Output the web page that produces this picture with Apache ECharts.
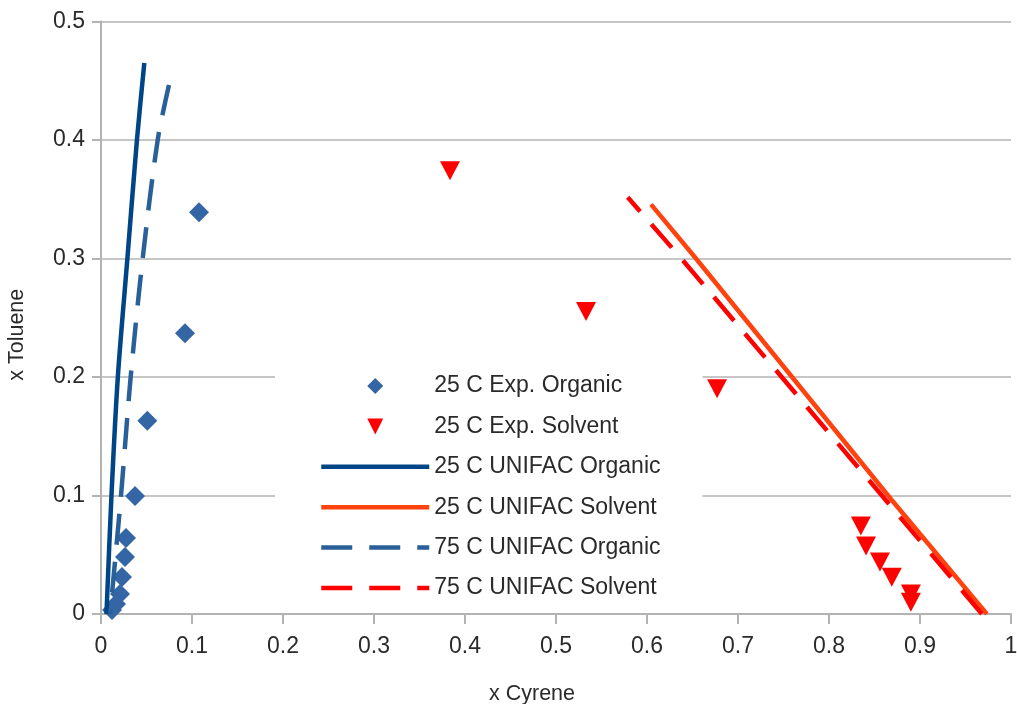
<!DOCTYPE html>
<html>
<head>
<meta charset="utf-8">
<script src="https://cdn.jsdelivr.net/npm/echarts@6/dist/echarts.min.js"></script>
<style>
html,body{margin:0;padding:0;background:#fff;}
#chart{width:1017px;height:704px;}
</style>
</head>
<body>
<div id="chart"></div>
<script>
const xTickLabels = ['0','0.1','0.2','0.3','0.4','0.5','0.6','0.7','0.8','0.9','1'];
const yTickLabels = ['0','0.1','0.2','0.3','0.4','0.5'];

const seriesNames = ['25 C Exp. Organic','25 C Exp. Solvent','25 C UNIFAC Organic','25 C UNIFAC Solvent','75 C UNIFAC Organic','75 C UNIFAC Solvent'];

const expOrgX = [0.1077,0.0923,0.0509,0.0374,0.0275,0.0264,0.0231,0.0209,0.0165,0.0121];
const expOrgY = [0.339,0.2369,0.163,0.0996,0.0641,0.0481,0.0312,0.0169,0.0084,0.0034];

const expSolX = [0.3835,0.533,0.677,0.835,0.8407,0.856,0.869,0.890,0.890];
const expSolY = [0.374,0.2553,0.190,0.0743,0.0574,0.0439,0.031,0.0169,0.010];

const uni25OrgX = [0.006,0.0115,0.0185,0.029,0.0395,0.0476];
const uni25OrgY = [0,0.1,0.2,0.3,0.4,0.465];

// listed from the top end down
const uni75OrgX = [0.0747,0.0623,0.0458,0.0326,0.022,0.010];
const uni75OrgY = [0.4464,0.4,0.3,0.2,0.1,0];

const uni25SolX = [0.9735,0.8689,0.7594,0.6538,0.6044];
const uni25SolY = [0,0.0962,0.2,0.3,0.3457];

const uni75SolX = [0.968,0.8623,0.748,0.6377,0.5788];
const uni75SolY = [0,0.0962,0.2,0.3,0.3516];

const zip = (xs, ys) => xs.map((x, i) => [x, ys[i]]);
const FONT = 'Liberation Sans';
const AXIS_COLOR = '#b3b3b3';

// legend icons: small marker centred in the wide legend key box
const diamondIcon = 'path://M0,0M108,16M46,8L54,0L62,8L54,16Z';
const triangleIcon = 'path://M0,0M108,16M46,0L62,0L54,16Z';

const chart = echarts.init(document.getElementById('chart'), null, {renderer: 'canvas'});
chart.setOption({
  animation: false,
  backgroundColor: '#fff',
  grid: {left: 101, right: 6, top: 21.5, bottom: 90, outerBoundsMode: 'none', containLabel: false},
  legend: {
    orient: 'vertical',
    left: 275,
    top: 364,
    padding: [10, 42, 10, 44],
    backgroundColor: '#fff',
    itemWidth: 108,
    itemHeight: 16,
    itemGap: 16.4,
    selectedMode: false,
    lineStyle: {width: 4.5},
    textStyle: {fontFamily: FONT, fontSize: 23, color: '#2a2a2a', lineHeight: 24},
    data: [
      {name: seriesNames[0], icon: diamondIcon},
      {name: seriesNames[1], icon: triangleIcon},
      {name: seriesNames[2], itemStyle: {opacity: 0}},
      {name: seriesNames[3], itemStyle: {opacity: 0}},
      {name: seriesNames[4], itemStyle: {opacity: 0}},
      {name: seriesNames[5], itemStyle: {opacity: 0}}
    ]
  },
  xAxis: {
    type: 'value', min: 0, max: 1, interval: 0.1,
    name: 'x Cyrene', nameLocation: 'middle', nameGap: 69,
    nameTextStyle: {fontFamily: FONT, fontSize: 21.5, color: '#2a2a2a', padding: [0, 48, 0, 0]},
    axisLine: {show: true, onZero: false, lineStyle: {color: AXIS_COLOR, width: 2}},
    axisTick: {show: true, length: 10, lineStyle: {color: AXIS_COLOR, width: 2}},
    axisLabel: {margin: 21, fontFamily: FONT, fontSize: 23, color: '#2a2a2a',
      formatter: v => xTickLabels[Math.round(v * 10)]},
    splitLine: {show: false}
  },
  yAxis: {
    type: 'value', min: 0, max: 0.5, interval: 0.1,
    name: 'x Toluene', nameLocation: 'middle', nameGap: 73, nameRotate: 90,
    nameTextStyle: {fontFamily: FONT, fontSize: 21.5, color: '#2a2a2a', padding: [0, 34, 0, 0]},
    axisLine: {show: true, onZero: false, lineStyle: {color: AXIS_COLOR, width: 2}},
    axisTick: {show: true, length: 9, lineStyle: {color: AXIS_COLOR, width: 2}},
    axisLabel: {margin: 16, fontFamily: FONT, fontSize: 23, color: '#2a2a2a',
      formatter: v => yTickLabels[Math.round(v * 10)]},
    splitLine: {show: true, lineStyle: {color: AXIS_COLOR, width: 1.5}}
  },
  series: [
    {name: seriesNames[2], type: 'line', data: zip(uni25OrgX, uni25OrgY), symbol: 'none', showSymbol: false,
     smooth: 0.3, color: '#004586', lineStyle: {color: '#004586', width: 4.5}},
    {name: seriesNames[3], type: 'line', data: zip(uni25SolX, uni25SolY), symbol: 'none', showSymbol: false,
     color: '#ff420e', lineStyle: {color: '#ff420e', width: 4.5}},
    {name: seriesNames[4], type: 'line', data: zip(uni75OrgX, uni75OrgY), symbol: 'none', showSymbol: false,
     smooth: 0.3, color: '#2a6099', lineStyle: {color: '#2a6099', width: 4.5, type: [31, 17]}},
    {name: seriesNames[5], type: 'line', data: zip(uni75SolX, uni75SolY), symbol: 'none', showSymbol: false,
     color: '#ff0000', lineStyle: {color: '#ff0000', width: 4.5, type: [31, 17]}},
    {name: seriesNames[0], type: 'scatter', data: zip(expOrgX, expOrgY), symbol: 'diamond', symbolSize: 20,
     itemStyle: {color: '#3465a4', opacity: 1}},
    {name: seriesNames[1], type: 'scatter', data: zip(expSolX, expSolY), symbol: 'triangle', symbolSize: [20, 19],
     symbolRotate: 180, itemStyle: {color: '#ff0000', opacity: 1}}
  ]
});
</script>
</body>
</html>
